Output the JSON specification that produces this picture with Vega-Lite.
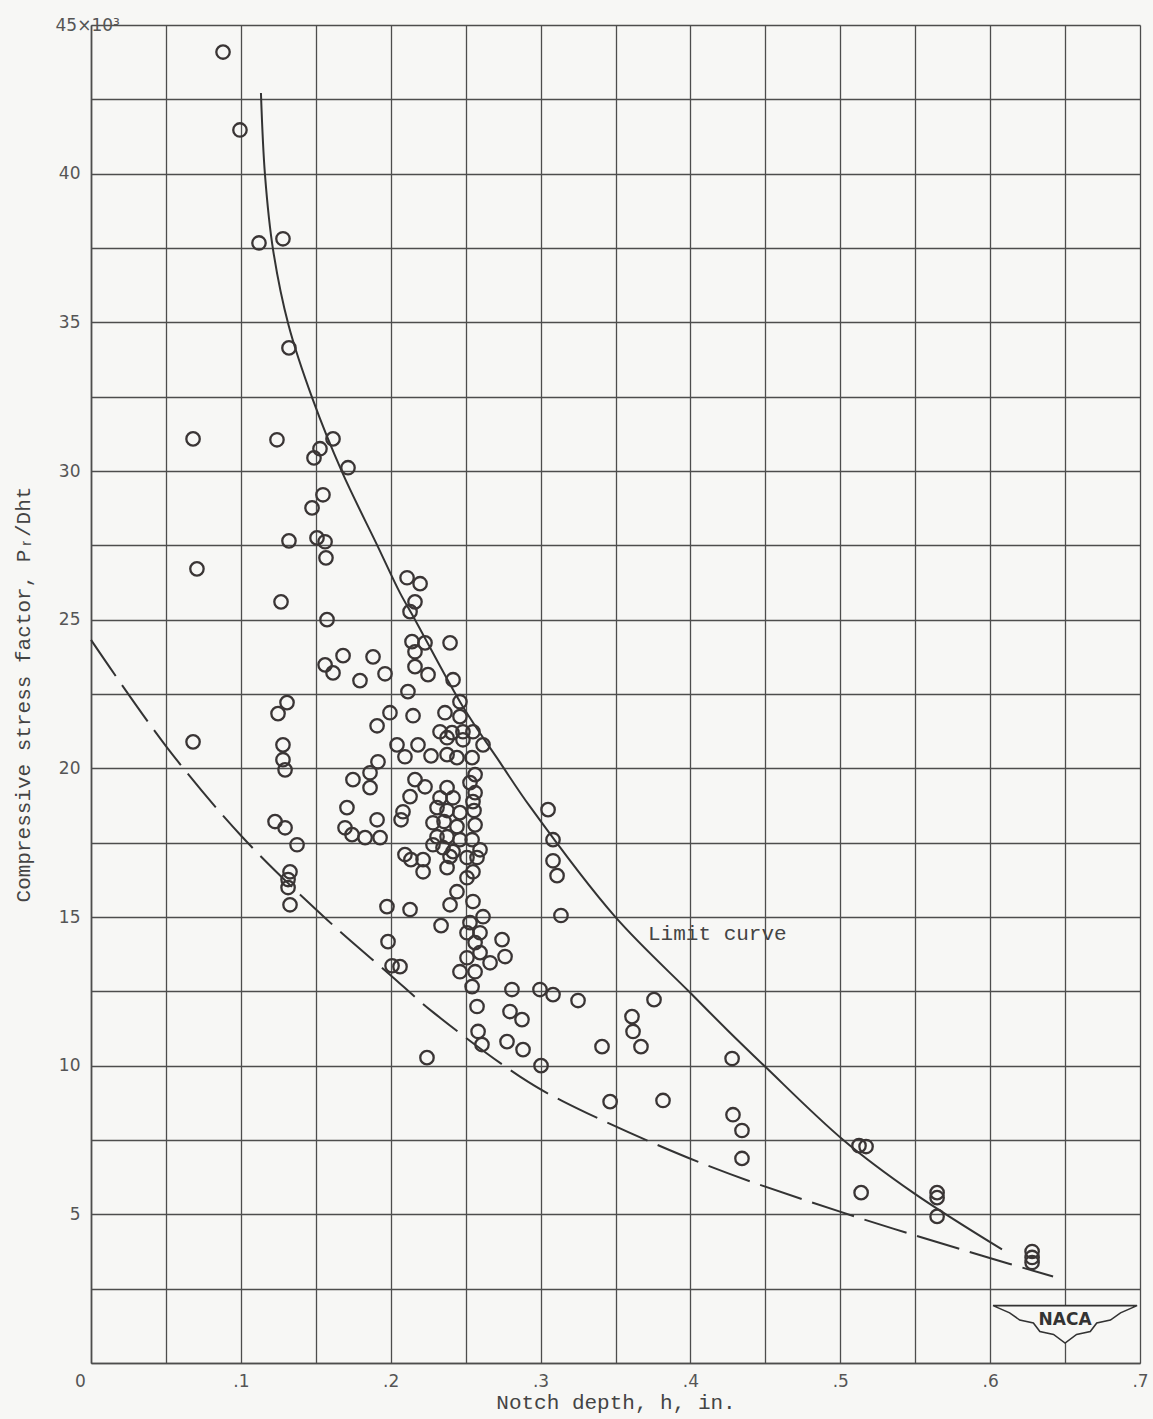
{
  "$schema": "https://vega.github.io/schema/vega-lite/v6.json",
  "width": 1049,
  "height": 1338,
  "autosize": {"type": "none"},
  "padding": {"left": 91, "top": 25, "right": 13, "bottom": 56},
  "background": "#f7f7f5",
  "config": {"view": {"stroke": null}},
  "datasets": {
    "points": [
      {"x":0.0881,"y":44.09},{"x":0.0994,"y":41.47},{"x":0.1121,"y":37.67},{"x":0.1281,"y":37.81},{"x":0.1321,"y":34.14},
      {"x":0.0681,"y":31.08},{"x":0.1241,"y":31.05},{"x":0.1615,"y":31.08},{"x":0.1528,"y":30.75},{"x":0.1488,"y":30.44},
      {"x":0.1715,"y":30.11},{"x":0.1548,"y":29.20},{"x":0.1475,"y":28.76},{"x":0.1321,"y":27.65},{"x":0.1508,"y":27.75},
      {"x":0.1562,"y":27.62},{"x":0.1568,"y":27.08},{"x":0.0707,"y":26.71},{"x":0.1268,"y":25.60},{"x":0.1575,"y":25.00},
      {"x":0.2109,"y":26.41},{"x":0.2196,"y":26.21},{"x":0.2162,"y":25.60},{"x":0.2129,"y":25.27},{"x":0.2142,"y":24.26},
      {"x":0.2229,"y":24.22},{"x":0.2396,"y":24.22},{"x":0.2162,"y":23.92},{"x":0.1682,"y":23.79},{"x":0.1882,"y":23.75},
      {"x":0.1562,"y":23.48},{"x":0.1615,"y":23.21},{"x":0.1962,"y":23.18},{"x":0.2162,"y":23.42},{"x":0.2249,"y":23.15},
      {"x":0.1795,"y":22.95},{"x":0.2416,"y":22.98},{"x":0.2115,"y":22.58},{"x":0.2462,"y":22.24},{"x":0.2362,"y":21.87},
      {"x":0.1995,"y":21.87},{"x":0.2149,"y":21.77},{"x":0.1909,"y":21.43},{"x":0.2462,"y":21.74},{"x":0.2329,"y":21.23},
      {"x":0.2409,"y":21.20},{"x":0.2482,"y":21.23},{"x":0.2549,"y":21.23},{"x":0.2376,"y":21.03},{"x":0.2482,"y":20.96},
      {"x":0.2616,"y":20.79},{"x":0.2042,"y":20.79},{"x":0.2095,"y":20.39},{"x":0.2182,"y":20.79},{"x":0.2269,"y":20.42},
      {"x":0.2376,"y":20.46},{"x":0.2442,"y":20.36},{"x":0.2543,"y":20.36},
      {"x":0.1308,"y":22.21},{"x":0.1248,"y":21.84},{"x":0.1281,"y":20.79},{"x":0.1281,"y":20.29},{"x":0.1295,"y":19.95},
      {"x":0.1228,"y":18.21},{"x":0.1295,"y":18.00},{"x":0.1375,"y":17.43},{"x":0.1328,"y":16.52},{"x":0.1315,"y":16.26},
      {"x":0.1315,"y":15.99},{"x":0.1328,"y":15.41},{"x":0.0681,"y":20.89},
      {"x":0.1915,"y":20.22},{"x":0.1862,"y":19.85},{"x":0.1748,"y":19.62},{"x":0.1862,"y":19.35},{"x":0.1708,"y":18.68},
      {"x":0.1909,"y":18.27},{"x":0.1695,"y":18.00},{"x":0.1742,"y":17.77},{"x":0.1829,"y":17.67},{"x":0.1929,"y":17.67},
      {"x":0.1975,"y":15.35},{"x":0.2129,"y":15.25},
      {"x":0.2162,"y":19.62},{"x":0.2229,"y":19.38},{"x":0.2129,"y":19.05},{"x":0.2082,"y":18.54},{"x":0.2069,"y":18.27},
      {"x":0.2376,"y":19.35},{"x":0.2329,"y":19.01},{"x":0.2416,"y":19.01},{"x":0.2529,"y":19.52},{"x":0.2563,"y":19.79},
      {"x":0.2563,"y":19.18},{"x":0.2549,"y":18.88},{"x":0.2309,"y":18.68},{"x":0.2376,"y":18.58},{"x":0.2462,"y":18.51},
      {"x":0.2556,"y":18.58},{"x":0.2282,"y":18.17},{"x":0.2356,"y":18.21},{"x":0.2442,"y":18.04},{"x":0.2563,"y":18.10},
      {"x":0.2309,"y":17.70},{"x":0.2376,"y":17.70},{"x":0.2462,"y":17.60},{"x":0.2543,"y":17.60},{"x":0.2282,"y":17.43},
      {"x":0.2349,"y":17.33},{"x":0.2416,"y":17.20},{"x":0.2596,"y":17.26},{"x":0.2095,"y":17.10},{"x":0.2135,"y":16.93},
      {"x":0.2216,"y":16.93},{"x":0.2396,"y":17.03},{"x":0.2509,"y":17.00},{"x":0.2576,"y":17.00},{"x":0.2216,"y":16.52},
      {"x":0.2376,"y":16.66},{"x":0.2549,"y":16.52},{"x":0.2509,"y":16.32},{"x":0.2442,"y":15.85},{"x":0.2549,"y":15.52},
      {"x":0.2396,"y":15.41},{"x":0.2616,"y":15.01},{"x":0.2336,"y":14.71},{"x":0.2529,"y":14.81},{"x":0.2509,"y":14.47},
      {"x":0.2596,"y":14.47},{"x":0.2743,"y":14.24},{"x":0.2563,"y":14.14},{"x":0.2509,"y":13.63},{"x":0.2596,"y":13.80},
      {"x":0.2663,"y":13.46},{"x":0.2763,"y":13.67},{"x":0.2462,"y":13.16},{"x":0.2563,"y":13.16},{"x":0.2543,"y":12.66},
      {"x":0.2809,"y":12.56},{"x":0.2996,"y":12.56},{"x":0.3083,"y":12.39},{"x":0.3250,"y":12.19},{"x":0.2576,"y":11.99},
      {"x":0.2796,"y":11.82},{"x":0.2876,"y":11.55},{"x":0.2583,"y":11.15},{"x":0.2609,"y":10.71},{"x":0.2776,"y":10.81},
      {"x":0.2883,"y":10.54},{"x":0.3410,"y":10.64},{"x":0.3003,"y":10.00},{"x":0.2242,"y":10.27},
      {"x":0.3050,"y":18.61},{"x":0.3083,"y":17.60},{"x":0.3083,"y":16.89},{"x":0.3110,"y":16.39},{"x":0.3136,"y":15.05},
      {"x":0.3610,"y":11.65},{"x":0.3617,"y":11.15},{"x":0.3670,"y":10.64},{"x":0.3757,"y":12.22},{"x":0.3464,"y":8.79},
      {"x":0.3817,"y":8.83},{"x":0.4278,"y":10.24},{"x":0.4284,"y":8.35},{"x":0.4344,"y":7.82},{"x":0.4344,"y":6.88},
      {"x":0.5125,"y":7.31},{"x":0.5172,"y":7.28},{"x":0.5139,"y":5.73},{"x":0.5646,"y":5.73},{"x":0.5646,"y":5.56},
      {"x":0.5646,"y":4.93},{"x":0.6280,"y":3.75},{"x":0.6280,"y":3.55},{"x":0.6280,"y":3.38},
      {"x":0.1982,"y":14.17},{"x":0.2009,"y":13.36},{"x":0.2062,"y":13.33}
    ],
    "limit": [
      {"x":0.1134,"y":42.71},{"x":0.1161,"y":39.96},{"x":0.1215,"y":37.44},{"x":0.1318,"y":34.91},{"x":0.1481,"y":32.39},
      {"x":0.1675,"y":29.97},{"x":0.1915,"y":27.45},{"x":0.2062,"y":25.9},{"x":0.2162,"y":25.0},{"x":0.2482,"y":22.07},
      {"x":0.2729,"y":20.2},{"x":0.293,"y":18.71},{"x":0.3497,"y":15.01},{"x":0.3997,"y":12.46},{"x":0.4244,"y":11.21},
      {"x":0.4498,"y":9.97},{"x":0.5018,"y":7.51},{"x":0.5486,"y":5.73},{"x":0.6079,"y":3.82}
    ],
    "dashed": [
      {"x":0.0,"y":24.32},{"x":0.05,"y":20.75},{"x":0.1008,"y":17.7},{"x":0.1575,"y":14.91},{"x":0.1995,"y":13.06},
      {"x":0.2282,"y":11.8},{"x":0.2863,"y":9.63},{"x":0.315,"y":8.8},{"x":0.4064,"y":6.74},{"x":0.4998,"y":5.09},
      {"x":0.5986,"y":3.55},{"x":0.642,"y":2.91}
    ],
    "labels": [{"x":0.3717,"y":14.44,"text":"Limit curve"}],
    "logo": [{"x":0.650,"y":1.30}],
    "logotext": [{"x":0.650,"y":1.45,"text":"NACA"}]
  },
  "encoding": {
    "x": {
      "field": "x", "type": "quantitative",
      "scale": {"domain": [0, 0.7], "nice": false, "zero": false},
      "axis": {
        "title": "Notch depth, h, in.",
        "values": [0,0.05,0.1,0.15,0.2,0.25,0.3,0.35,0.4,0.45,0.5,0.55,0.6,0.65,0.7],
        "labelExpr": "round(datum.value*100) % 10 != 0 ? '' : (datum.value == 0 ? '0' : replace(format(datum.value, '.1f'), '0.', '.'))",
        "grid": true, "gridColor": "#4d4d4d", "gridWidth": 1.3,
        "domainColor": "#4d4d4d", "domainWidth": 1.6,
        "ticks": false,
        "labelPadding": 10,
        "labelFont": "DejaVu Sans", "labelFontSize": 17, "labelColor": "#555555",
        "labelFlush": false, "labelOverlap": false, "labelBound": false,
        "labelOffset": {"condition": {"test": "datum.value == 0", "value": -11}, "value": 0},
        "titleFont": "Liberation Mono", "titleFontSize": 21, "titleFontWeight": "normal", "titleColor": "#444444",
        "titlePadding": 2
      }
    },
    "y": {
      "field": "y", "type": "quantitative",
      "scale": {"domain": [0, 45], "nice": false, "zero": true},
      "axis": {
        "title": "Compressive stress factor, Pᵣ/Dht",
        "values": [0,2.5,5,7.5,10,12.5,15,17.5,20,22.5,25,27.5,30,32.5,35,37.5,40,42.5,45],
        "labelExpr": "(round(datum.value*10) % 50 != 0 || datum.value == 0) ? '' : (datum.value == 45 ? '45×10³' : format(datum.value, 'd'))",
        "grid": true, "gridColor": "#4d4d4d", "gridWidth": 1.3,
        "domainColor": "#4d4d4d", "domainWidth": 1.6,
        "ticks": false,
        "labelAlign": {"condition": {"test": "datum.value == 45", "value": "left"}, "value": "right"},
        "labelPadding": {"condition": {"test": "datum.value == 45", "value": 36}, "value": 11},
        "labelBaseline": "middle",
        "labelFont": "DejaVu Sans", "labelFontSize": 17, "labelColor": "#555555",
        "labelFlush": false, "labelOverlap": false, "labelBound": false,
        "titleFont": "Liberation Mono", "titleFontSize": 21, "titleFontWeight": "normal", "titleColor": "#444444",
        "titlePadding": 22
      }
    }
  },
  "layer": [
    {
      "data": {"name": "dashed"},
      "mark": {"type": "line", "interpolate": "catmull-rom", "stroke": "#333333", "strokeWidth": 2, "strokeDash": [44, 11]},
      "encoding": {}
    },
    {
      "data": {"name": "limit"},
      "mark": {"type": "line", "interpolate": "catmull-rom", "stroke": "#333333", "strokeWidth": 2},
      "encoding": {}
    },
    {
      "data": {"name": "points"},
      "mark": {"type": "point", "shape": "circle", "filled": false, "size": 180, "stroke": "#3a3535", "strokeWidth": 2.3, "opacity": 1}
    },
    {
      "data": {"name": "labels"},
      "mark": {"type": "text", "align": "left", "baseline": "middle", "font": "Liberation Mono", "fontSize": 21, "color": "#444444"},
      "encoding": {"text": {"field": "text"}}
    },
    {
      "data": {"name": "logo"},
      "mark": {"type": "point", "shape": "M -1 -0.26 L 1 -0.26 L 0.77 -0.16 L 0.63 -0.06 L 0.44 -0.02 L 0.35 0.1 L 0.16 0.14 L 0 0.26 L -0.16 0.14 L -0.35 0.1 L -0.44 -0.02 L -0.63 -0.06 L -0.77 -0.16 Z", "size": 20736, "filled": true, "fill": "#f7f7f5", "stroke": "#333333", "strokeWidth": 1.6, "opacity": 1}
    },
    {
      "data": {"name": "logotext"},
      "mark": {"type": "text", "align": "center", "baseline": "middle", "font": "DejaVu Sans", "fontSize": 17, "fontWeight": "bold", "color": "#333333"},
      "encoding": {"text": {"field": "text"}}
    }
  ]
}
